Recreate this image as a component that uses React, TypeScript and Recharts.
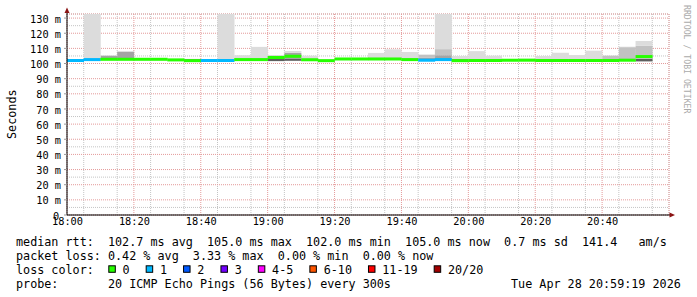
import React from 'react';
import { ComposedChart, Bar, XAxis, YAxis, CartesianGrid, Cell } from 'recharts';

const FONT = '"DejaVu Sans Mono", "Liberation Mono", monospace';

// 5 minute slots, 18:00 .. 20:55
const slots = [
  '18:00', '18:05', '18:10', '18:15', '18:20', '18:25', '18:30', '18:35', '18:40', '18:45', '18:50', '18:55',
  '19:00', '19:05', '19:10', '19:15', '19:20', '19:25', '19:30', '19:35', '19:40', '19:45', '19:50', '19:55',
  '20:00', '20:05', '20:10', '20:15', '20:20', '20:25', '20:30', '20:35', '20:40', '20:45', '20:50', '20:55',
];

// median rtt (ms) per slot
const medianMs = [
  102.0, 102.6, 102.8, 102.8, 102.8, 102.8, 102.4, 101.9, 102.0, 102.0, 102.6, 102.6,
  104.0, 104.8, 102.5, 101.9, 103.0, 103.0, 103.0, 103.0, 102.6, 102.2, 102.6, 101.9,
  102.0, 102.0, 102.2, 102.2, 102.0, 102.0, 102.0, 102.0, 102.0, 102.2, 104.6, null,
];

// lost pings out of 20
const lostPings = [
  1, 1, 0, 0, 0, 0, 0, 0, 1, 1, 0, 0,
  0, 0, 0, 0, 0, 0, 0, 0, 0, 1, 1, 0,
  0, 0, 0, 0, 0, 0, 0, 0, 0, 0, 0, null,
];

// smoke band edges (ms), bottom -> top
const smokeLo = [
  101.6, 102.1, 102.3, 102.3, 102.3, 102.3, 101.9, 101.4, 101.6, 101.6, 102.1, 102.1,
  101.6, 101.8, 102.0, 101.4, 102.5, 102.5, 102.5, 102.5, 102.1, 101.7, 102.1, 101.4,
  101.5, 101.5, 101.7, 101.7, 101.5, 101.5, 101.5, 101.5, 101.5, 101.7, 101.4, null,
];
const smokeDark = [
  101.6, 102.1, 102.3, 102.3, 102.3, 102.3, 101.9, 102.9, 101.6, 101.6, 102.1, 102.1,
  103.4, 103.0, 102.0, 101.4, 102.5, 102.5, 102.5, 102.5, 102.1, 101.7, 102.1, 102.9,
  101.5, 101.5, 101.7, 101.7, 102.9, 101.5, 101.5, 101.5, 101.5, 101.7, 103.2, null,
];
const smokeMid = [
  101.6, 102.1, 105.2, 107.8, 102.3, 102.3, 101.9, 102.9, 101.6, 101.6, 102.1, 102.1,
  105.0, 107.0, 102.0, 101.4, 102.5, 102.5, 102.5, 102.5, 102.1, 104.0, 105.5, 102.9,
  101.5, 101.5, 101.7, 101.7, 102.9, 101.5, 101.5, 101.5, 101.5, 101.7, 103.2, null,
];
const smokeSoft = [
  101.6, 102.1, 105.2, 107.8, 102.3, 102.3, 101.9, 102.9, 101.6, 101.6, 102.1, 102.1,
  105.0, 107.0, 102.0, 101.4, 102.5, 102.5, 102.5, 102.5, 102.1, 105.8, 109.5, 102.9,
  101.5, 101.5, 101.7, 101.7, 102.9, 101.5, 101.5, 101.5, 105.2, 110.8, 111.7, null,
];
const smokeHi = [
  102.6, 132.7, 105.6, 108.3, 103.5, 103.5, 103.0, 103.1, 102.6, 132.7, 105.5, 111.0,
  105.6, 108.3, 105.2, 102.6, 103.6, 103.6, 107.0, 109.4, 107.6, 106.0, 132.7, 105.0,
  108.2, 105.2, 102.8, 103.2, 105.0, 107.1, 105.6, 108.5, 105.4, 111.1, 114.9, null,
];

const lossLabels = ['0', '1', '2', '3', '4-5', '6-10', '11-19', '20/20'];
const lossColors = ['#26ff00', '#00b8ff', '#0059ff', '#7300ff', '#ff00ff', '#ff5500', '#ff0000', '#a10000'];

const hourTicks = [0, 20, 40, 60, 80, 100, 120, 140, 160];
const hourLabels = ['18:00', '18:20', '18:40', '19:00', '19:20', '19:40', '20:00', '20:20', '20:40'];
const fiveMinTicks = [5, 10, 15, 25, 30, 35, 45, 50, 55, 65, 70, 75, 85, 90, 95, 105, 110, 115, 125, 130, 135, 145, 150, 155, 165, 170, 175];
const msTicks = [0, 10, 20, 30, 40, 50, 60, 70, 80, 90, 100, 110, 120, 130];
const msMinorTicks = [5, 15, 25, 35, 45, 55, 65, 75, 85, 95, 105, 115, 125];

const Y_MAX = 132.7;

function bucket(lost: number) {
  if (lost <= 3) return lost;
  if (lost <= 5) return 4;
  if (lost <= 10) return 5;
  if (lost <= 19) return 6;
  return 7;
}

function minutesAfterSix(label: string) {
  const [h, m] = label.split(':').map(Number);
  return (h - 18) * 60 + m;
}

const rows = slots.map((slot, i) => {
  const lo = smokeLo[i];
  const med = medianMs[i];
  return {
    slot,
    tmin: minutesAfterSix(slot),
    base: lo,
    dark: lo == null ? null : smokeDark[i]! - lo,
    mid: lo == null ? null : smokeMid[i]! - smokeDark[i]!,
    soft: lo == null ? null : smokeSoft[i]! - smokeMid[i]!,
    light: lo == null ? null : smokeHi[i]! - smokeSoft[i]!,
    medBase: med == null ? null : med - 1,
    medBand: med == null ? null : 2,
    loss: lostPings[i],
  };
});

const XTick = (props: any) => {
  const { x, y, payload } = props;
  const label = hourLabels[hourTicks.indexOf(payload.value)] ?? '';
  return (
    <text x={x + 0.5} y={y} dy={10} textAnchor="middle" fontFamily={FONT} fontSize={10.3} fill="#000">
      {label}
    </text>
  );
};

const YTick = (props: any) => {
  const { x, y, payload } = props;
  const v = payload.value;
  return (
    <text x={v === 0 ? x - 1.8 : x} y={y} dy={4.6} textAnchor="end" fontFamily={FONT} fontSize={10.3} fill="#000">
      {v === 0 ? '0' : `${v} m`}
    </text>
  );
};

const legendLines = [
  'median rtt:  102.7 ms avg  105.0 ms max  102.0 ms min  105.0 ms now  0.7 ms sd  141.4   am/s',
  'packet loss: 0.42 % avg  3.33 % max  0.00 % min  0.00 % now',
  'loss color:',
  'probe:       20 ICMP Echo Pings (56 Bytes) every 300s',
];
const stamp = 'Tue Apr 28 20:59:19 2026';

export default function App() {
  const charW = 7.08;
  let bx = 108.3;
  const boxes = lossLabels.map((label, i) => {
    const item = { label, color: lossColors[i], x: bx };
    bx += label.length * charW + 30.3;
    return item;
  });

  return (
    <div style={{ position: 'absolute', left: 0, top: 0, width: 697, height: 297, background: '#fff' }}>
      <ComposedChart
        width={697}
        height={297}
        data={rows}
        margin={{ top: 14, right: 28, bottom: 0, left: 0 }}
        barCategoryGap={0}
        barGap={0}
      >
        <XAxis xAxisId="smoke" dataKey="slot" type="category" hide />
        <XAxis xAxisId="median" dataKey="slot" type="category" hide />
        <XAxis xAxisId="minor" dataKey="tmin" type="number" domain={[0, 180]} ticks={fiveMinTicks} hide allowDataOverflow />
        <XAxis
          xAxisId="major"
          dataKey="tmin"
          type="number"
          domain={[0, 180]}
          ticks={hourTicks}
          interval={0}
          height={82}
          allowDataOverflow
          axisLine={{ stroke: '#000' }}
          tickLine={false}
          tickSize={0}
          tickMargin={0}
          tick={<XTick />}
        />
        <YAxis
          yAxisId="ms"
          domain={[0, Y_MAX]}
          ticks={msTicks}
          interval={0}
          width={67}
          allowDataOverflow
          axisLine={{ stroke: '#000' }}
          tickLine={{ stroke: '#999' }}
          tickSize={3}
          tickMargin={3}
          tick={<YTick />}
        />
        <YAxis yAxisId="msMinor" domain={[0, Y_MAX]} ticks={msMinorTicks} hide allowDataOverflow />

        <Bar xAxisId="smoke" yAxisId="ms" dataKey="base" stackId="smoke" fill="none" isAnimationActive={false} />
        <Bar xAxisId="smoke" yAxisId="ms" dataKey="dark" stackId="smoke" fill="#5e5e5e" isAnimationActive={false} />
        <Bar xAxisId="smoke" yAxisId="ms" dataKey="mid" stackId="smoke" fill="#a4a4a4" isAnimationActive={false} />
        <Bar xAxisId="smoke" yAxisId="ms" dataKey="soft" stackId="smoke" fill="#c2c2c2" isAnimationActive={false} />
        <Bar xAxisId="smoke" yAxisId="ms" dataKey="light" stackId="smoke" fill="#dcdcdc" isAnimationActive={false} />

        <Bar xAxisId="median" yAxisId="ms" dataKey="medBase" stackId="med" fill="none" isAnimationActive={false} />
        <Bar xAxisId="median" yAxisId="ms" dataKey="medBand" stackId="med" isAnimationActive={false}>
          {rows.map((r, i) => (
            <Cell key={`m-${i}`} fill={lossColors[bucket(r.loss ?? 0)]} />
          ))}
        </Bar>

        <CartesianGrid xAxisId="minor" yAxisId="msMinor" stroke="#c4c4c4" strokeDasharray="1 1" fill="none" />
        <CartesianGrid xAxisId="major" yAxisId="ms" stroke="#e49a9a" strokeDasharray="1 1" fill="none" />
      </ComposedChart>

      <svg width={697} height={297} style={{ position: 'absolute', left: 0, top: 0, pointerEvents: 'none' }}>
        {/* axis arrows */}
        <line x1={67} y1={10} x2={67} y2={14} stroke="#000" />
        <polygon points="67,7.5 64.5,13 69.5,13" fill="#8b1414" />
        <line x1={669} y1={215} x2={670} y2={215} stroke="#000" />
        <polygon points="675,215 669.5,212.5 669.5,217.5" fill="#8b1414" />

        <text
          x={16}
          y={114.2}
          transform="rotate(-90, 16, 114.2)"
          textAnchor="middle"
          fontFamily={FONT}
          fontSize={11.75}
          fill="#000"
        >
          Seconds
        </text>
        <text
          x={684.3}
          y={5}
          transform="rotate(90, 684.3, 5)"
          fontFamily={FONT}
          fontSize={8.2}
          fill="#aaaaaa"
          style={{ whiteSpace: 'pre' }}
        >
          RRDTOOL / TOBI OETIKER
        </text>

        {legendLines.map((line, i) => (
          <text
            key={i}
            x={16}
            y={245.8 + i * 14.07}
            fontFamily={FONT}
            fontSize={11.75}
            fill="#000"
            xmlSpace="preserve"
            style={{ whiteSpace: 'pre' }}
          >
            {line}
          </text>
        ))}
        {boxes.map((b) => (
          <g key={b.label}>
            <rect x={b.x + 0.5} y={265.8} width={6.5} height={6.5} fill={b.color} stroke="#000" strokeWidth={1} />
            <text x={b.x + 14.3} y={274} fontFamily={FONT} fontSize={11.75} fill="#000">
              {b.label}
            </text>
          </g>
        ))}
        <text x={680.8} y={288} textAnchor="end" fontFamily={FONT} fontSize={11.75} fill="#000">
          {stamp}
        </text>
      </svg>
    </div>
  );
}
